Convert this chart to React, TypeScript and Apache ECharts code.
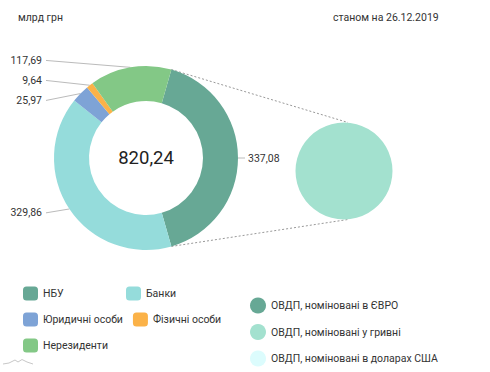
import React, { useEffect, useRef } from "react";
import * as echarts from "echarts";

// ---- data ----
const holders = ["НБУ", "Банки", "Юридичні особи", "Фізичні особи", "Нерезиденти"];
const holderValues = [337.08, 329.86, 25.97, 9.64, 117.69];
const holderColors = ["#67a895", "#95dcdb", "#7ea3d6", "#fbb248", "#83c886"];

const currencies = ["ОВДП, номіновані в ЄВРО", "ОВДП, номіновані у гривні", "ОВДП, номіновані в доларах США"];
const currencyValues = [0, 337.08, 0];
const currencyColors = ["#67a895", "#a3e1cf", "#dcfcfd"];

const unitLabel = "млрд грн";
const dateLabel = "станом на 26.12.2019";

const fmt = (v: number) => v.toFixed(2).replace(".", ",");

export default function App() {
  const ref = useRef<HTMLDivElement>(null);
  useEffect(() => {
    document.body.style.margin = "0";
    if (!ref.current) return;
    const chart = echarts.init(ref.current, null, { renderer: "svg" });

    const CX = 146, CY = 158, R_IN = 57, R_OUT = 92;
    const CX2 = 344, CY2 = 171, R2 = 48.5;
    const total = holderValues.reduce((a, b) => a + b, 0);
    const halfAngle = (holderValues[0] / total) * 180; // half of the NBU slice, degrees
    const startAngle = halfAngle;
    const rad = (halfAngle * Math.PI) / 180;
    const topStart = [CX + R_OUT * Math.cos(rad), CY - R_OUT * Math.sin(rad)];
    const botStart = [CX + R_OUT * Math.cos(rad), CY + R_OUT * Math.sin(rad)];

    const font = "Roboto";
    const FS = 10.5;
    const LEFT_LABEL_X = 42;

    chart.setOption({
      animation: false,
      textStyle: { fontFamily: font },
      title: [
        { text: unitLabel, left: 18, top: 11.5, padding: 0, textStyle: { fontSize: FS, fontWeight: "normal", color: "#333", fontFamily: font } },
        { text: dateLabel, left: 333, top: 11.5, padding: 0, textStyle: { fontSize: FS, fontWeight: "normal", color: "#333", fontFamily: font } },
      ],
      legend: [
        {
          data: holders,
          left: 23,
          top: 285.5,
          width: 220,
          padding: 0,
          orient: "horizontal",
          icon: "roundRect",
          itemWidth: 15,
          itemHeight: 14,
          itemGap: 10,
          selectedMode: false,
          textStyle: { fontSize: FS, color: "#333", width: 73, lineHeight: 16, fontFamily: font },
        },
        {
          data: currencies,
          left: 250,
          top: 297.5,
          padding: 0,
          orient: "vertical",
          icon: "circle",
          itemWidth: 16,
          itemHeight: 16,
          itemGap: 10.5,
          selectedMode: false,
          textStyle: { fontSize: FS, color: "#333", fontFamily: font },
        },
      ],
      graphic: [
        {
          type: "text",
          x: CX,
          y: CY,
          style: { text: fmt(total), font: `18.5px ${font}`, fill: "#222", align: "center", verticalAlign: "middle" },
          silent: true,
        },
        {
          type: "line",
          shape: { x1: topStart[0], y1: topStart[1], x2: CX2 + 4, y2: CY2 - R2 },
          style: { stroke: "#999", lineWidth: 1, lineDash: [2, 2] },
          silent: true,
        },
        {
          type: "line",
          shape: { x1: botStart[0], y1: botStart[1], x2: CX2 + 4, y2: CY2 + R2 },
          style: { stroke: "#999", lineWidth: 1, lineDash: [2, 2] },
          silent: true,
        },
        {
          type: "polyline",
          shape: { points: [[3, 364], [9, 363], [15, 360], [18, 362], [22, 359.5], [27, 362], [33, 364]] },
          style: { stroke: "#c8c8c8", lineWidth: 1, fill: "none" },
          silent: true,
        },
      ],
      series: [
        {
          type: "pie",
          radius: [R_IN, R_OUT],
          center: [CX, CY],
          startAngle,
          clockwise: true,
          silent: true,
          emphasis: { disabled: true },
          itemStyle: { borderWidth: 0 },
          label: {
            show: true,
            formatter: (p: any) => fmt(p.value),
            fontSize: FS,
            color: "#333",
            fontFamily: font,
            lineHeight: 18,
          },
          labelLine: { show: true, length: 7, length2: 10, lineStyle: { color: "#bbb", width: 1 } },
          labelLayout: (p: any) => {
            const pts = p.labelLinePoints;
            if (!pts) return {};
            const sx = pts[0][0], sy = pts[0][1];
            const ly = p.labelRect.y + p.labelRect.height / 2;
            if (sx < CX) {
              return {
                x: LEFT_LABEL_X,
                y: ly,
                align: "right",
                verticalAlign: "middle",
                labelLinePoints: [[sx, sy], [LEFT_LABEL_X + 4, ly]],
              };
            }
            return {
              x: sx + 10,
              y: ly,
              align: "left",
              verticalAlign: "middle",
              labelLinePoints: [[sx, sy], [sx + 7, ly]],
            };
          },
          data: holders.map((n, i) => ({ name: n, value: holderValues[i], itemStyle: { color: holderColors[i] } })),
        },
        {
          type: "pie",
          radius: [0, R2],
          center: [CX2, CY2],
          silent: true,
          emphasis: { disabled: true },
          itemStyle: { borderWidth: 0 },
          label: { show: false },
          labelLine: { show: false },
          data: currencies.map((n, i) => ({ name: n, value: currencyValues[i], itemStyle: { color: currencyColors[i] } })),
        },
      ],
    });
    return () => chart.dispose();
  }, []);
  return <div ref={ref} style={{ width: 490, height: 372 }} />;
}
